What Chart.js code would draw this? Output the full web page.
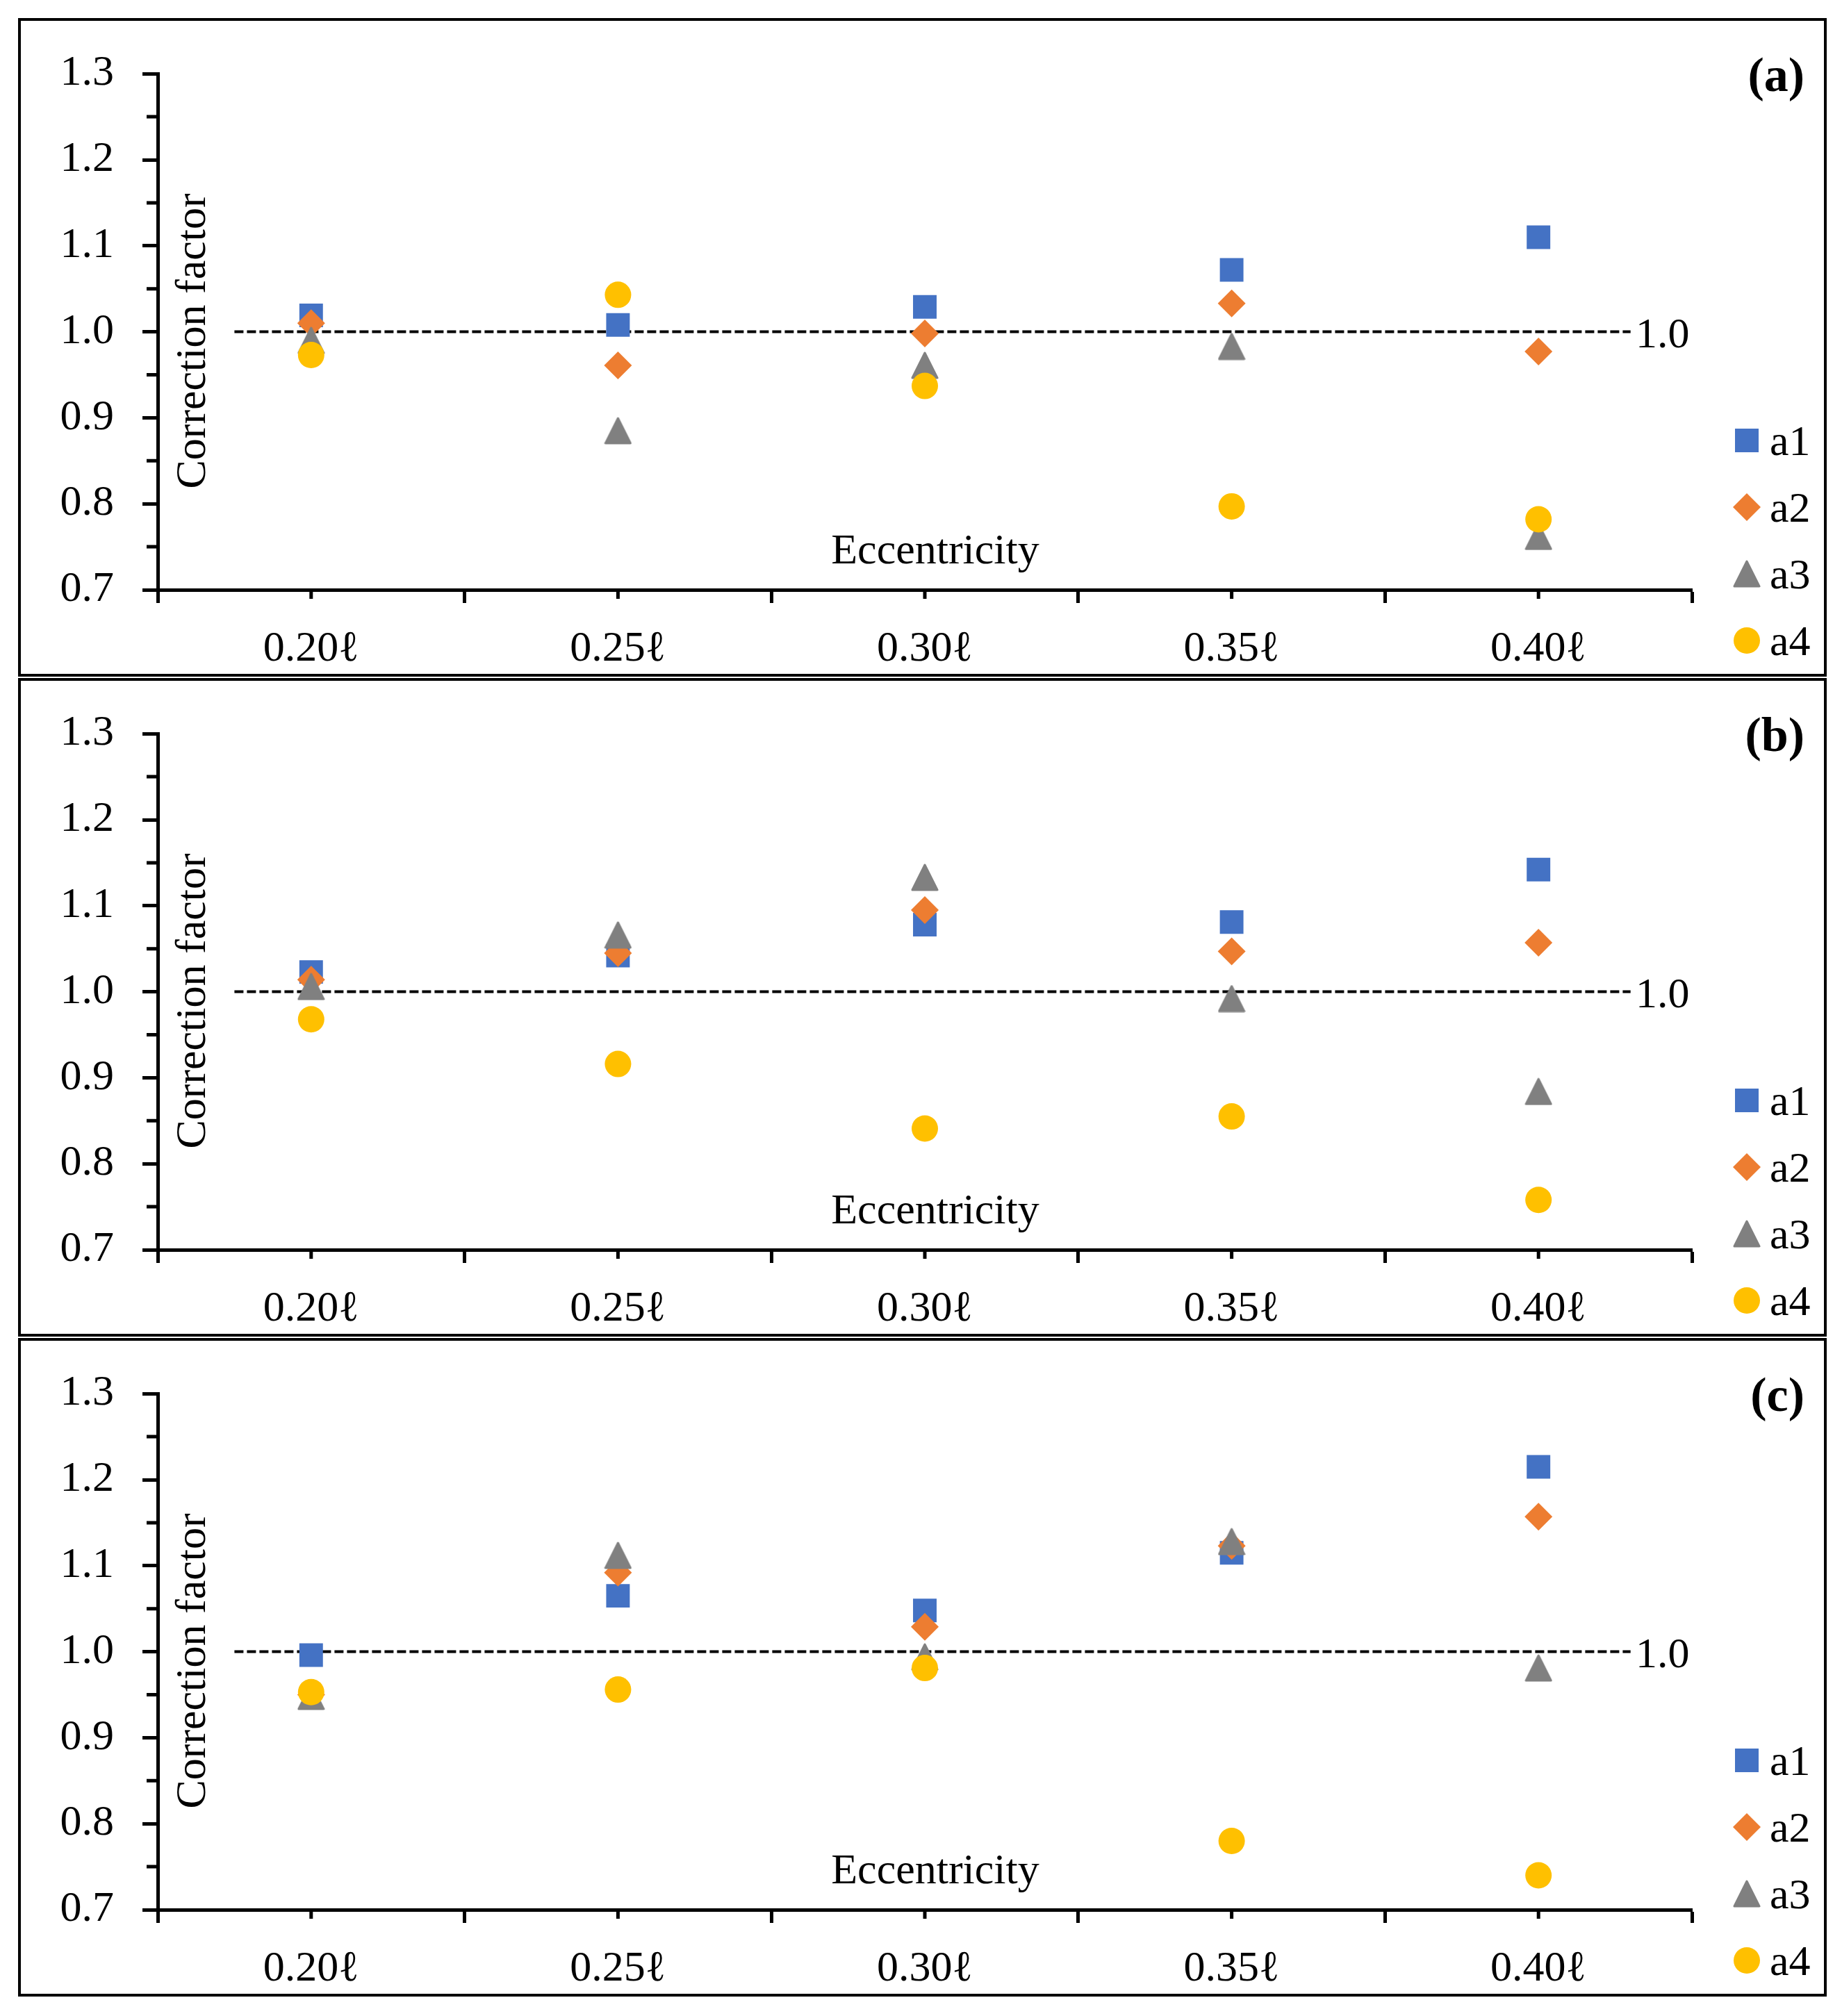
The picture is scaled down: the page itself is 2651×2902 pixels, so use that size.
<!DOCTYPE html>
<html lang="en">
<head>
    <meta charset="UTF-8">
    <title>Correction factor vs eccentricity</title>
    <script src="https://cdn.jsdelivr.net/npm/chart.js@4.4.1/dist/chart.umd.min.js"></script>
    <style>
        body { margin: 0; background: #fff; width: 2651px; height: 2902px; position: relative; overflow: hidden; }
        .panel-canvas { position: absolute; left: 0; }
        .panel-box { position: absolute; left: 26px; width: 2603px; height: 948px; border: 4px solid #000; box-sizing: border-box; pointer-events: none; }
    </style>
</head>
<body>
    <canvas id="chartA" class="panel-canvas" style="top:28px"></canvas>
    <canvas id="chartB" class="panel-canvas" style="top:978px"></canvas>
    <canvas id="chartC" class="panel-canvas" style="top:1928px"></canvas>
    <div class="panel-box" style="top:26px"></div>
    <div class="panel-box" style="top:976px"></div>
    <div class="panel-box" style="top:1926px"></div>

    <script>
        // eccentricity positions and their tick labels
        const ecc = [0.20, 0.25, 0.30, 0.35, 0.40];
        const xLabels = ['0.20\u2113', '0.25\u2113', '0.30\u2113', '0.35\u2113', '0.40\u2113'];
        const yTickVals = [0.7, 0.75, 0.8, 0.85, 0.9, 0.95, 1.0, 1.05, 1.1, 1.15, 1.2, 1.25, 1.3];
        const seriesNames = ['a1', 'a2', 'a3', 'a4'];
        const panelTags = ['(a)', '(b)', '(c)'];

        // panel (a)
        const panelA_a1 = [1.019, 1.008, 1.029, 1.072, 1.110];
        const panelA_a2 = [1.010, 0.961, 0.998, 1.033, 0.977];
        const panelA_a3 = [0.990, 0.885, 0.961, 0.983, 0.762];
        const panelA_a4 = [0.973, 1.043, 0.937, 0.797, 0.782];
        // panel (b)
        const panelB_a1 = [1.023, 1.042, 1.078, 1.081, 1.142];
        const panelB_a2 = [1.014, 1.045, 1.095, 1.047, 1.057];
        const panelB_a3 = [1.006, 1.066, 1.133, 0.992, 0.884];
        const panelB_a4 = [0.968, 0.916, 0.841, 0.855, 0.758];
        // panel (c)
        const panelC_a1 = [0.996, 1.065, 1.048, 1.115, 1.215];
        const panelC_a2 = [0.950, 1.092, 1.029, 1.123, 1.157];
        const panelC_a3 = [0.948, 1.112, 0.994, 1.128, 0.981];
        const panelC_a4 = [0.953, 0.956, 0.981, 0.780, 0.740];

        // dashed reference line at 1.0
        const refLineX = [0.1875, 0.415];
        const refLineY = [1.0, 1.0];
        const refLabel = '1.0';

        const FONT = "'Liberation Serif', 'Times New Roman', serif";
        const colors = ['#4472C4', '#ED7D31', '#808080', '#FFC000'];

        // triangle marker as a small canvas so it sits centred like Excel's
        const triImg = document.createElement('canvas');
        triImg.width = 40; triImg.height = 40;
        (function () {
            const c = triImg.getContext('2d');
            c.fillStyle = colors[2];
            c.strokeStyle = colors[2];
            c.lineJoin = 'round';
            c.lineWidth = 3;
            c.beginPath();
            c.moveTo(20, 2); c.lineTo(38, 38); c.lineTo(2, 38); c.closePath();
            c.fill(); c.stroke();
        })();

        const markerStyles = [
            { pointStyle: 'rect', radius: 24 },
            { pointStyle: 'rectRot', radius: 20 },
            { pointStyle: triImg, radius: 20 },
            { pointStyle: 'circle', radius: 19 }
        ];

        const xTickVals = [];
        ecc.forEach(e => { xTickVals.push(+(e - 0.025).toFixed(4)); xTickVals.push(e); });
        xTickVals.push(+(ecc[ecc.length - 1] + 0.025).toFixed(4));

        const isCenter = v => ecc.some(e => Math.abs(e - v) < 1e-6);
        const isMajorY = v => Math.abs(v * 10 - Math.round(v * 10)) < 1e-6;

        function drawMarker(ctx, i, x, y) {
            ctx.save();
            ctx.fillStyle = colors[i];
            if (i === 0) {
                ctx.fillRect(x - 17, y - 17, 34, 34);
            } else if (i === 1) {
                ctx.beginPath();
                ctx.moveTo(x, y - 20); ctx.lineTo(x + 20, y); ctx.lineTo(x, y + 20); ctx.lineTo(x - 20, y);
                ctx.closePath(); ctx.fill();
            } else if (i === 2) {
                ctx.drawImage(triImg, x - 20, y - 20);
            } else {
                ctx.beginPath(); ctx.arc(x, y, 19, 0, Math.PI * 2); ctx.fill();
            }
            ctx.restore();
        }

        const panelDeco = {
            id: 'panelDeco',
            afterDraw(chart, args, opts) {
                const ctx = chart.ctx;
                const xs = chart.scales.x, ys = chart.scales.y;
                const area = chart.chartArea;
                ctx.save();
                ctx.fillStyle = '#000';
                ctx.strokeStyle = '#000';
                ctx.lineWidth = 5;
                // short minor ticks
                ctx.beginPath();
                xTickVals.filter(isCenter).forEach(v => {
                    const px = xs.getPixelForValue(v);
                    ctx.moveTo(px, area.bottom); ctx.lineTo(px, area.bottom + 13);
                });
                yTickVals.filter(v => !isMajorY(v)).forEach(v => {
                    const py = ys.getPixelForValue(v);
                    ctx.moveTo(area.left - 16, py); ctx.lineTo(area.left, py);
                });
                ctx.stroke();

                ctx.font = '62px ' + FONT;
                ctx.textBaseline = 'alphabetic';
                // reference line label
                ctx.textAlign = 'left';
                ctx.fillText(refLabel, 2354, ys.getPixelForValue(refLineY[1]) + 22);
                // axis titles inside plot
                ctx.textAlign = 'center';
                ctx.fillText('Eccentricity', 1346, 783);
                ctx.save();
                ctx.translate(295, 463);
                ctx.rotate(-Math.PI / 2);
                ctx.fillText('Correction factor', 0, 0);
                ctx.restore();
                // panel tag
                ctx.font = 'bold 70px ' + FONT;
                ctx.textAlign = 'right';
                ctx.fillText(opts.tag, 2597, 103);
                // legend
                ctx.font = '62px ' + FONT;
                ctx.textAlign = 'left';
                seriesNames.forEach((name, i) => {
                    const y = 606 + i * 96;
                    drawMarker(ctx, i, 2514, y);
                    ctx.fillStyle = '#000';
                    ctx.fillText(name, 2547, y + 21);
                });
                ctx.restore();
            }
        };

        function makePanel(id, tag, series) {
            const canvas = document.getElementById(id);
            canvas.width = 2651; canvas.height = 944;
            canvas.style.width = '2651px'; canvas.style.height = '944px';

            const datasets = series.map((vals, i) => ({
                label: seriesNames[i],
                data: ecc.map((e, k) => ({ x: e, y: vals[k] })),
                showLine: false,
                pointStyle: markerStyles[i].pointStyle,
                pointRadius: markerStyles[i].radius,
                backgroundColor: colors[i],
                borderColor: colors[i],
                pointBorderWidth: 0,
                order: 4 - i
            }));
            datasets.push({
                label: 'ref',
                data: refLineX.map((x, k) => ({ x: x, y: refLineY[k] })),
                showLine: true,
                borderColor: '#000',
                borderWidth: 4,
                borderDash: [13, 5],
                pointRadius: 0,
                order: 10
            });

            new Chart(canvas.getContext('2d'), {
                type: 'scatter',
                data: { datasets: datasets },
                plugins: [panelDeco],
                options: {
                    responsive: false,
                    animation: false,
                    devicePixelRatio: 1,
                    events: [],
                    layout: { padding: { left: 0, right: 216, top: 76, bottom: 0 }, autoPadding: false },
                    plugins: {
                        legend: { display: false },
                        tooltip: { enabled: false },
                        panelDeco: { tag: tag }
                    },
                    scales: {
                        x: {
                            type: 'linear',
                            min: xTickVals[0],
                            max: xTickVals[xTickVals.length - 1],
                            afterBuildTicks: s => { s.ticks = xTickVals.map(v => ({ value: v })); },
                            afterFit: s => { s.height = 123; },
                            border: { display: true, color: '#000', width: 5 },
                            grid: {
                                drawOnChartArea: false,
                                drawTicks: true,
                                tickLength: 19,
                                tickWidth: 5,
                                tickColor: c => (c.tick && isCenter(c.tick.value)) ? 'rgba(0,0,0,0)' : '#000'
                            },
                            ticks: {
                                autoSkip: false,
                                maxRotation: 0,
                                minRotation: 0,
                                padding: 30,
                                color: '#000',
                                font: { family: FONT, size: 62 },
                                callback: v => {
                                    const i = ecc.findIndex(e => Math.abs(e - v) < 1e-6);
                                    return i >= 0 ? xLabels[i] : '';
                                }
                            }
                        },
                        y: {
                            min: yTickVals[0],
                            max: yTickVals[yTickVals.length - 1],
                            afterBuildTicks: s => { s.ticks = yTickVals.map(v => ({ value: v })); },
                            afterFit: s => { s.width = 227; },
                            border: { display: true, color: '#000', width: 5 },
                            grid: {
                                drawOnChartArea: false,
                                drawTicks: true,
                                tickLength: 22,
                                tickWidth: 5,
                                tickColor: c => (c.tick && isMajorY(c.tick.value)) ? '#000' : 'rgba(0,0,0,0)'
                            },
                            ticks: {
                                autoSkip: false,
                                padding: 41,
                                color: '#000',
                                font: { family: FONT, size: 62 },
                                callback: v => isMajorY(v) ? v.toFixed(1) : ''
                            }
                        }
                    }
                }
            });
        }

        makePanel('chartA', panelTags[0], [panelA_a1, panelA_a2, panelA_a3, panelA_a4]);
        makePanel('chartB', panelTags[1], [panelB_a1, panelB_a2, panelB_a3, panelB_a4]);
        makePanel('chartC', panelTags[2], [panelC_a1, panelC_a2, panelC_a3, panelC_a4]);
    </script>
</body>
</html>
